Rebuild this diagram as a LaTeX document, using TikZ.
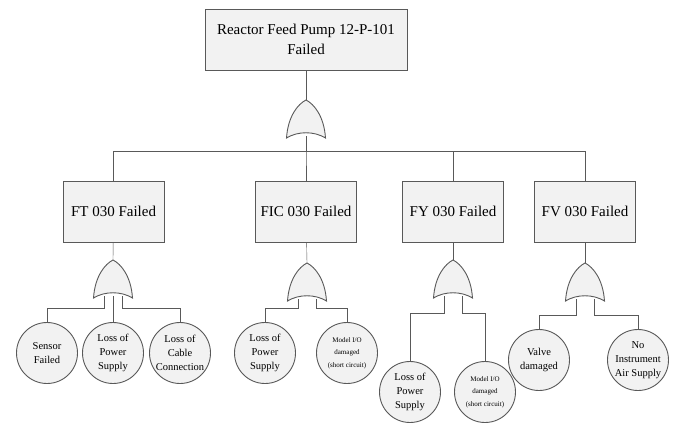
\documentclass[tikz,border=0pt]{standalone}
\usepackage{fontspec}
\setmainfont{Liberation Serif}
\usetikzlibrary{positioning,backgrounds}

\tikzset{
    orgate/.pic={
        \draw[draw=black!65, fill=black!5] (-19.5,38) .. controls (-18,16) and (-8,4) .. (0,0)
            .. controls (8,4) and (18,16) .. (19.5,38)
            .. controls (8,31) and (-8,31) .. (-19.5,38) -- cycle;
        \coordinate (-out) at (0,0);
        \coordinate (-a) at (-9,36);
        \coordinate (-b) at (0,36);
        \coordinate (-c) at (9,36);
    }
}

\begin{document}
\begin{tikzpicture}[x=1pt, y=-1pt, line width=0.9pt]
    % Define styles for the nodes
    \tikzstyle{event box} = [rectangle, draw=black!65, fill=black!5, minimum width=101pt, minimum height=61pt, inner sep=2pt, align=center, font=\fontsize{15}{20}\selectfont]
    \tikzstyle{basic event} = [circle, draw=black!65, fill=black!5, minimum size=61pt, inner sep=0pt, align=center, font=\fontsize{10.5}{14}\selectfont]
    \tikzstyle{small event} = [basic event, font=\fontsize{7}{12.5}\selectfont]
    \tikzstyle{wire} = [draw=black!65]

    \useasboundingbox (0,0) rectangle (677,423);

    % Top event
    \node[event box, minimum width=202pt] (top) at (306,39.5) {Reactor Feed Pump 12-P-101\\Failed};

    % Intermediate events
    \node[event box] (ft)  at (113.5,211.5) {FT 030 Failed};
    \node[event box] (fic) at (306,211.5)   {FIC 030 Failed};
    \node[event box] (fy)  at (453,211.5)   {FY 030 Failed};
    \node[event box] (fv)  at (585,211.5)   {FV 030 Failed};

    % Gates
    \pic (g0)   at (306,100) {orgate};
    \pic (gft)  at (113,260) {orgate};
    \pic (gfic) at (307,263) {orgate};
    \pic (gfy)  at (453,260) {orgate};
    \pic (gfv)  at (585,263) {orgate};

    % Basic events
    \node[basic event] (sensor) at (47,353)  {Sensor\\Failed};
    \node[basic event] (lps1)   at (113,353) {Loss of\\Power\\Supply};
    \node[basic event] (cable)  at (180,353) {Loss of\\Cable\\Connection};
    \node[basic event] (lps2)   at (265,353) {Loss of\\Power\\Supply};
    \node[small event] (io1)    at (347,353) {Model I/O\\damaged\\(short circuit)};
    \node[basic event] (lps3)   at (410,392) {Loss of\\Power\\Supply};
    \node[small event] (io2)    at (485,392) {Model I/O\\damaged\\(short circuit)};
    \node[basic event] (valve)  at (539,360) {Valve\\damaged};
    \node[basic event] (air)    at (638,360) {No\\Instrument\\Air Supply};

    % Bus levels
    \coordinate (topbus) at (0,151);
    \coordinate (ftbus)  at (0,308);
    \coordinate (ficbus) at (0,308);
    \coordinate (fybus)  at (0,313);
    \coordinate (fvbus)  at (0,315);

    % Connections
    \begin{scope}[on background layer]
        \draw[wire] (top) -- (g0-out);
        \foreach \n in {ft,fic,fy,fv}
            \draw[wire] (g0-b) |- (topbus -| \n.north) -- (\n);

        \draw[wire] (ft) -- (gft-out);
        \draw[wire] (gft-a) |- (ftbus -| sensor.north) -- (sensor);
        \draw[wire] (gft-b) -- (lps1);
        \draw[wire] (gft-c) |- (ftbus -| cable.north) -- (cable);

        \draw[wire] (fic) -- (gfic-out);
        \draw[wire] (gfic-a) |- (ficbus -| lps2.north) -- (lps2);
        \draw[wire] (gfic-c) |- (ficbus -| io1.north) -- (io1);

        \draw[wire] (fy) -- (gfy-out);
        \draw[wire] (gfy-a) |- (fybus -| lps3.north) -- (lps3);
        \draw[wire] (gfy-c) |- (fybus -| io2.north) -- (io2);

        \draw[wire] (fv) -- (gfv-out);
        \draw[wire] (gfv-a) |- (fvbus -| valve.north) -- (valve);
        \draw[wire] (gfv-c) |- (fvbus -| air.north) -- (air);
    \end{scope}
\end{tikzpicture}
\end{document}
